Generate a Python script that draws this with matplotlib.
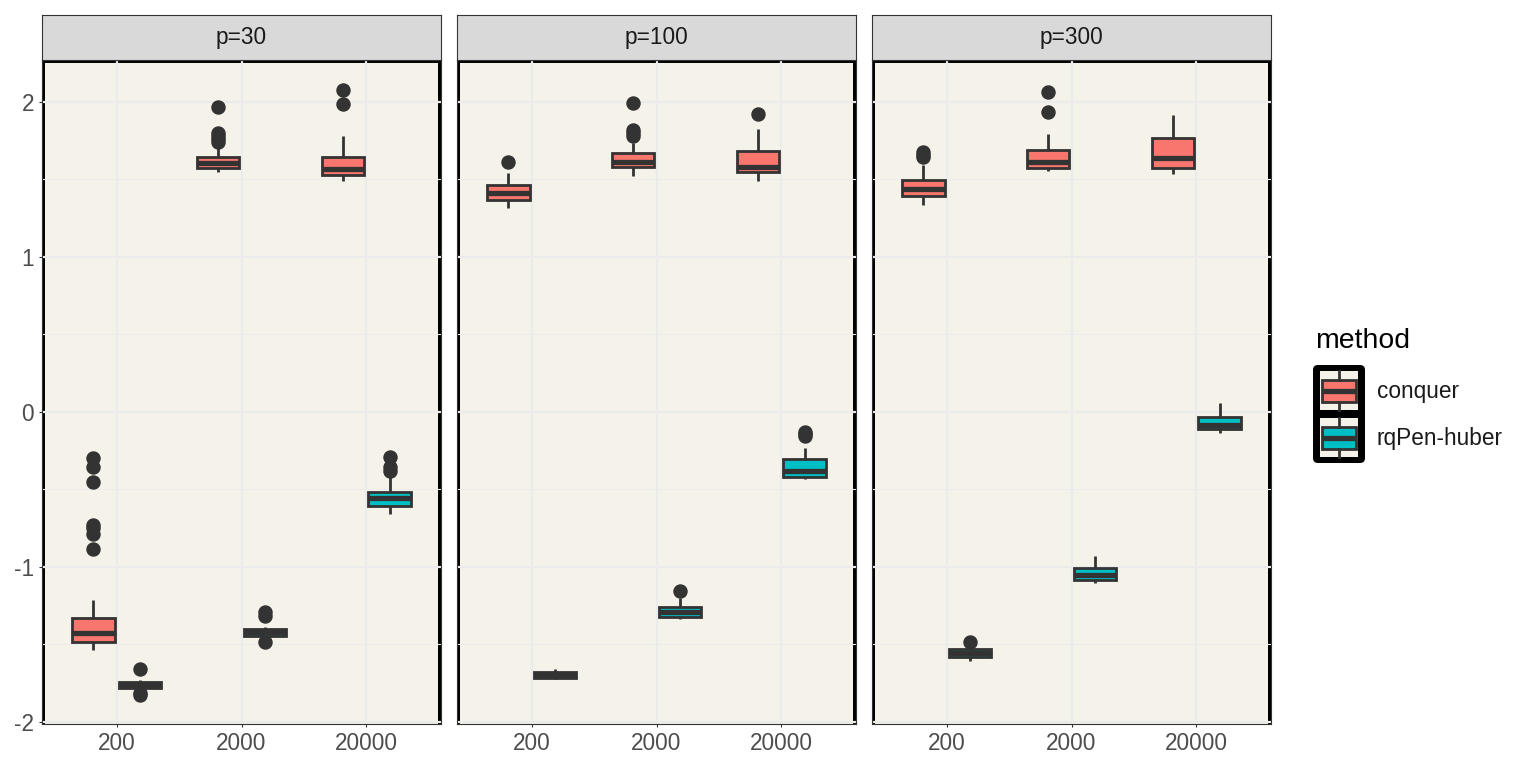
import matplotlib
matplotlib.use("Agg")
import matplotlib.pyplot as plt
from matplotlib.patches import Rectangle, FancyBboxPatch
from matplotlib.lines import Line2D

plt.rcParams['font.family'] = ['Liberation Sans', 'DejaVu Sans']

# ---------------- data ----------------
panels = ["p=30", "p=100", "p=300"]
n_labels = ["200", "2000", "20000"]
methods = ["conquer", "rqPen-huber"]
method_colors = ["#F8766D", "#00BFC4"]

# rows = panels (p=30, p=100, p=300); columns = n (200, 2000, 20000)
conquer_q1 = [[-1.484, 1.574, 1.531], [1.368, 1.579, 1.546], [1.394, 1.576, 1.576]]
conquer_med = [[-1.426, 1.606, 1.570], [1.413, 1.611, 1.579], [1.441, 1.615, 1.641]]
conquer_q3 = [[-1.329, 1.645, 1.645], [1.465, 1.673, 1.686], [1.497, 1.690, 1.770]]
conquer_lo = [[-1.535, 1.548, 1.490], [1.316, 1.523, 1.490], [1.335, 1.555, 1.533]]
conquer_hi = [[-1.213, 1.720, 1.781], [1.544, 1.733, 1.824], [1.594, 1.791, 1.916]]
conquer_out = [
    [[-0.297, -0.355, -0.452, -0.729, -0.748, -0.787, -0.884],
     [1.968, 1.80, 1.78, 1.76, 1.74],
     [2.077, 1.987]],
    [[1.615], [1.996, 1.82, 1.80, 1.78], [1.92]],
    [[1.675, 1.66, 1.645], [2.067, 1.938], []],
]

rqpen_q1 = [[-1.781, -1.445, -0.606], [-1.718, -1.321, -0.417], [-1.579, -1.084, -0.112]]
rqpen_med = [[-1.760, -1.420, -0.555], [-1.700, -1.288, -0.378], [-1.555, -1.052, -0.084]]
rqpen_q3 = [[-1.742, -1.400, -0.516], [-1.675, -1.256, -0.303], [-1.531, -1.009, -0.034]]
rqpen_lo = [[-1.794, -1.460, -0.658], [-1.725, -1.338, -0.432], [-1.604, -1.105, -0.133]]
rqpen_hi = [[-1.729, -1.385, -0.419], [-1.660, -1.202, -0.234], [-1.514, -0.929, 0.056]]
rqpen_out = [
    [[-1.658, -1.81, -1.826], [-1.288, -1.315, -1.482], [-0.29, -0.355, -0.38]],
    [[], [-1.155], [-0.13, -0.145, -0.155]],
    [[-1.482], [], []],
]

y_ticks = [-2, -1, 0, 1, 2]
y_minor = [-1.5, -0.5, 0.5, 1.5]

# ---------------- styling ----------------
W, H = 1536, 768
fig = plt.figure(figsize=(W / 100, H / 100), dpi=100)
fig.patch.set_facecolor("white")

panel_bg = "#F5F3E9"
grid_col = "#EBEBEB"
dark = "#333333"
fs_axis = 16.3
fs_title = 20.4

panel_x = [42, 457, 872]
panel_w = 399
panel_top, panel_bot = 59.5, 724
strip_top, strip_bot = 15, 59.5

def fx(x):
    return x / W

def fy(y):
    return 1 - y / H

stats_sets = [
    (conquer_q1, conquer_med, conquer_q3, conquer_lo, conquer_hi, conquer_out),
    (rqpen_q1, rqpen_med, rqpen_q3, rqpen_lo, rqpen_hi, rqpen_out),
]
offsets = [-0.1875, 0.1875]
box_w = 0.34

for pi, pname in enumerate(panels):
    x0 = panel_x[pi]
    ax = fig.add_axes([fx(x0), fy(panel_bot), panel_w / W, (panel_bot - panel_top) / H])
    ax.set_facecolor(panel_bg)
    ax.set_xlim(0.4, 3.6)
    ax.set_ylim(-2.013, 2.274)

    # black inner border of panel background (left, top, right)
    border = Line2D([0, 0, 1, 1], [-0.02, 1, 1, -0.02], transform=ax.transAxes,
                    color="black", lw=4.3, zorder=0.2, solid_joinstyle="miter")
    ax.add_line(border)

    ax.set_axisbelow(True)
    ax.set_yticks(y_ticks)
    ax.set_yticks(y_minor, minor=True)
    ax.set_xticks([1, 2, 3])
    ax.set_xticklabels(n_labels)
    ax.grid(True, which="major", color=grid_col, lw=1.6)
    ax.grid(True, which="minor", axis="y", color=grid_col, lw=0.8)
    ax.tick_params(axis="both", which="major", length=2.2, width=0.8, color=dark,
                   labelsize=fs_axis, labelcolor="#4D4D4D", pad=3.5)
    ax.tick_params(axis="both", which="minor", length=0)
    if pi == 0:
        ax.set_yticklabels([str(t) for t in y_ticks])
    else:
        ax.tick_params(axis="y", which="major", length=0, labelleft=False)

    for sp in ax.spines.values():
        sp.set_color(dark)
        sp.set_linewidth(0.8)

    for mi, (q1, med, q3, lo, hi, out) in enumerate(stats_sets):
        stats = []
        for ni in range(3):
            stats.append(dict(q1=q1[pi][ni], med=med[pi][ni], q3=q3[pi][ni],
                              whislo=lo[pi][ni], whishi=hi[pi][ni],
                              fliers=out[pi][ni]))
        pos = [k + 1 + offsets[mi] for k in range(3)]
        ax.bxp(stats, positions=pos, widths=box_w, patch_artist=True,
               showcaps=False, manage_ticks=False,
               boxprops=dict(facecolor=method_colors[mi], edgecolor=dark, linewidth=2.0),
               medianprops=dict(color=dark, linewidth=3.8, solid_capstyle="butt"),
               whiskerprops=dict(color=dark, linewidth=2.0, solid_capstyle="butt"),
               flierprops=dict(marker="o", markersize=9.4, markerfacecolor=dark,
                               markeredgecolor=dark, linestyle="none"))

    # strip
    sax = fig.add_axes([fx(x0), fy(strip_bot), panel_w / W, (strip_bot - strip_top) / H])
    sax.set_facecolor("#D9D9D9")
    sax.set_xticks([])
    sax.set_yticks([])
    for sp in sax.spines.values():
        sp.set_color(dark)
        sp.set_linewidth(0.8)
    sax.text(0.5, 0.5, pname, transform=sax.transAxes, ha="center", va="center",
             fontsize=fs_axis, color="#1A1A1A")

# ---------------- legend ----------------
lax = fig.add_axes([0, 0, 1, 1], zorder=5)
lax.set_xlim(0, W)
lax.set_ylim(H, 0)
lax.axis("off")
lax.patch.set_alpha(0)

lax.text(1315, 341, "method", fontsize=fs_title, color="black", ha="left", va="center")
lax.add_patch(FancyBboxPatch((1313, 365), 52, 98, boxstyle="round,pad=0,rounding_size=5",
                             fc="black", ec="black", lw=0))
key_tops = [371, 418]
for mi, m in enumerate(methods):
    kt = key_tops[mi]
    lax.add_patch(Rectangle((1319.5, kt), 38.5, 38.5, fc=panel_bg, ec="none"))
    cx = 1338.8
    lax.add_line(Line2D([cx, cx], [kt, kt + 8.5], color=dark, lw=2.0))
    lax.add_line(Line2D([cx, cx], [kt + 31, kt + 38.5], color=dark, lw=2.0))
    lax.add_patch(Rectangle((1321.5, kt + 9.2), 34.5, 22.2, fc=method_colors[mi],
                            ec=dark, lw=2.0))
    lax.add_line(Line2D([1321.5, 1356], [kt + 20.3, kt + 20.3], color=dark, lw=3.8,
                        solid_capstyle="butt"))
    lax.text(1377, kt + 20.3, m, fontsize=fs_axis, color="#1A1A1A", ha="left", va="center")

fig.savefig("out.png", dpi=100)
